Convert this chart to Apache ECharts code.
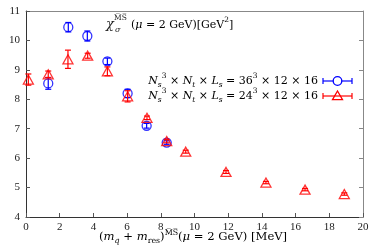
<!DOCTYPE html>
<html><head><meta charset="utf-8">
<script src="https://cdn.jsdelivr.net/npm/echarts@6/dist/echarts.min.js"></script>
<style>html,body{margin:0;padding:0;background:#fff}#c{width:381px;height:251px}</style>
</head><body><div id="c"></div>
<script>
// ---- data ----
const xTickValues = [0, 2, 4, 6, 8, 10, 12, 14, 16, 18, 20];
const yTickValues = [4, 5, 6, 7, 8, 9, 10, 11];
const xBlue = [1.32, 2.51, 3.64, 4.83, 6.03, 7.16, 8.35];
const yBlue = [8.54, 10.45, 10.15, 9.29, 8.20, 7.10, 6.53];
const eBlue = [0.20, 0.16, 0.17, 0.11, 0.14, 0.08, 0.06];
const xRed = [0.14, 1.32, 2.49, 3.66, 4.83, 6.03, 7.18, 8.35, 9.48, 11.87, 14.24, 16.56, 18.89];
const yRed = [8.67, 8.85, 9.36, 9.48, 8.95, 8.10, 7.37, 6.58, 6.22, 5.53, 5.17, 4.93, 4.78];
const eRed = [0.19, 0.11, 0.31, 0.085, 0.15, 0.19, 0.06, 0.06, 0.05, 0.05, 0.04, 0.04, 0.04];
const legendBlue = '36';
const legendRed = '24';

const BLUE = '#0000ff', RED = '#ff0000';
const FONT = 'Liberation Serif';
const TFONT = 'DejaVu Serif';
const blueData = xBlue.map((x, i) => [x, yBlue[i], eBlue[i]]);
const redData = xRed.map((x, i) => [x, yRed[i], eRed[i]]);

function errItem(color) {
  return function (params, api) {
    const x = api.value(0), y = api.value(1), e = api.value(2);
    const p = api.coord([x, y]);
    const lo = api.coord([x, y - e]);
    const hi = api.coord([x, y + e]);
    const w = 3;
    const st = { stroke: color, lineWidth: 1.2 };
    return { type: 'group', children: [
      { type: 'line', shape: { x1: p[0], y1: lo[1], x2: p[0], y2: hi[1] }, style: st },
      { type: 'line', shape: { x1: p[0] - w, y1: lo[1], x2: p[0] + w, y2: lo[1] }, style: st },
      { type: 'line', shape: { x1: p[0] - w, y1: hi[1], x2: p[0] + w, y2: hi[1] }, style: st }
    ]};
  };
}

function makeRich(fs) {
  const s = fs * 0.68;
  return {
    m: { fontFamily: TFONT, fontSize: fs, color: '#222', lineHeight: 16, verticalAlign: 'middle' },
    i: { fontFamily: TFONT, fontSize: fs, fontStyle: 'italic', color: '#222', lineHeight: 16 },
    sup: { fontFamily: TFONT, fontSize: s, color: '#222', lineHeight: 8, verticalAlign: 'top' },
    sub: { fontFamily: TFONT, fontSize: s, fontStyle: 'italic', color: '#222', lineHeight: 8, verticalAlign: 'bottom' },
    subr: { fontFamily: TFONT, fontSize: s, color: '#222', lineHeight: 8, verticalAlign: 'bottom' }
  };
}
const richBase = makeRich(11);
const richTitle = makeRich(11.6);

function legendText(n) {
  return '{i|N}{sub|s}{sup|3}{m| × }{i|N}{sub|t}{m| × }{i|L}{sub|s}{m| = ' + n + '}{sup|3}{m| × 12 × 16}';
}

function legendSample(y, color, symbol) {
  const st = { stroke: color, lineWidth: 1.2 };
  const x1 = 323, x2 = 352, cx = 337.5;
  const kids = [
    { type: 'line', shape: { x1: x1, y1: y, x2: x2, y2: y }, style: st },
    { type: 'line', shape: { x1: x1, y1: y - 3, x2: x1, y2: y + 3 }, style: st },
    { type: 'line', shape: { x1: x2, y1: y - 3, x2: x2, y2: y + 3 }, style: st }
  ];
  if (symbol === 'circle') {
    kids.push({ type: 'circle', shape: { cx: cx, cy: y, r: 4.3 }, style: { fill: '#fff', stroke: color, lineWidth: 1.3 } });
  } else {
    kids.push({ type: 'polygon', shape: { points: [[cx, y - 5], [cx + 5, y + 3.6], [cx - 5, y + 3.6]] }, style: { fill: 'rgba(0,0,0,0)', stroke: color, lineWidth: 1.3 } });
  }
  return { type: 'group', children: kids };
}

const chart = echarts.init(document.getElementById('c'), null, { renderer: 'canvas' });
chart.setOption({
  animation: false,
  backgroundColor: '#fff',
  grid: { left: 26, right: 18, top: 11, bottom: 34, show: false },
  xAxis: [{
    type: 'value', min: xTickValues[0], max: xTickValues[xTickValues.length - 1], interval: 2,
    axisLine: { show: true, lineStyle: { color: '#333', width: 1 } },
    axisTick: { show: true, inside: true, length: 4, lineStyle: { color: '#555' } },
    axisLabel: { fontFamily: FONT, fontSize: 11, color: '#222', margin: 5 },
    splitLine: { show: false }
  }, {
    type: 'value', position: 'top', min: 0, max: 20,
    axisLine: { show: true, onZero: false, lineStyle: { color: '#888', width: 1 } },
    axisTick: { show: false }, axisLabel: { show: false }, splitLine: { show: false }
  }],
  yAxis: [{
    type: 'value', min: yTickValues[0], max: yTickValues[yTickValues.length - 1], interval: 1,
    axisLine: { show: true, lineStyle: { color: '#333', width: 1 } },
    axisTick: { show: true, inside: true, length: 4, lineStyle: { color: '#555' } },
    axisLabel: { fontFamily: FONT, fontSize: 11, color: '#222', margin: 6 },
    splitLine: { show: false }
  }, {
    type: 'value', position: 'right', min: 4, max: 11, interval: 1,
    axisLine: { show: true, onZero: false, lineStyle: { color: '#888', width: 1 } },
    axisTick: { show: true, inside: true, length: 4, lineStyle: { color: '#888' } },
    axisLabel: { show: false }, splitLine: { show: false }
  }],
  series: [
    { type: 'custom', data: blueData, renderItem: errItem(BLUE), z: 2, silent: true },
    { type: 'scatter', data: blueData, symbol: 'circle', symbolSize: 9, z: 3,
      itemStyle: { color: 'rgba(0,0,0,0)', borderColor: BLUE, borderWidth: 1.3 } },
    { type: 'custom', data: redData, renderItem: errItem(RED), z: 4, silent: true },
    { type: 'scatter', data: redData, symbol: 'triangle', symbolSize: [10, 9], z: 5,
      itemStyle: { color: 'rgba(0,0,0,0)', borderColor: RED, borderWidth: 1.3 } }
  ],
  graphic: [
    // annotation
    { type: 'text', left: 106, top: 18, style: { text: 'χ', font: 'italic 13px ' + TFONT, fill: '#222' } },
    { type: 'text', left: 115, top: 26, style: { text: 'σ', font: 'italic 8px ' + TFONT, fill: '#222' } },
    { type: 'text', left: 114, top: 14, style: { text: 'M\u0305S\u0305', font: '7.5px ' + TFONT, fill: '#222' } },
    { type: 'text', left: 131, top: 17, style: { rich: richBase, text: '{m|(}{i|μ}{m| = 2 GeV)[GeV}{sup|2}{m|]}' } },
    // legend
    { type: 'text', right: 63, top: 73, style: { rich: richBase, text: legendText(legendBlue), align: 'right' } },
    { type: 'text', right: 63, top: 88, style: { rich: richBase, text: legendText(legendRed), align: 'right' } },
    legendSample(81, BLUE, 'circle'),
    legendSample(96, RED, 'triangle'),
    // x axis title
    { type: 'text', left: 99, top: 229, style: { rich: richTitle, text: '{m|(}{i|m}{sub|q}{m| + }{i|m}{subr|res}{m|)}{sup|M\u0305S\u0305}{m|(}{i|μ}{m| = 2 GeV) [MeV]}' } }
  ]
});
</script></body></html>
